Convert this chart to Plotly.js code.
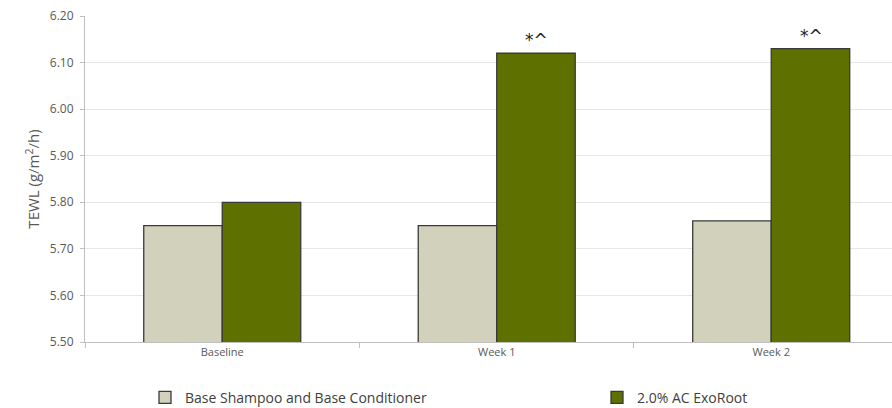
<!DOCTYPE html>
<html><head><meta charset="utf-8">
<script src="https://cdn.plot.ly/plotly-3.0.1.min.js"></script>
<style>html,body{margin:0;padding:0;background:#fff}#c{width:892px;height:408px}</style>
</head><body><div id="c"></div>
<script>
const categories = ["Baseline", "Week 1", "Week 2"];
const seriesNames = ["Base Shampoo and Base Conditioner", "2.0% AC ExoRoot"];
const baseValues = [5.75, 5.75, 5.76];
const exoValues = [5.80, 6.12, 6.13];
const sigMarks = ["", "*^", "*^"];
const yTicks = [5.5, 5.6, 5.7, 5.8, 5.9, 6.0, 6.1, 6.2];

const lineCol = "#3a3a3a";
const traces = [
  {type:"bar", name:seriesNames[0], x:categories, y:baseValues, legend:"legend",
   marker:{color:"#d2d1bc", line:{color:lineCol, width:1.3}}},
  {type:"bar", name:seriesNames[1], x:categories, y:exoValues, legend:"legend2",
   marker:{color:"#5e7000", line:{color:lineCol, width:1.3}}}
];
const annotations = categories.map((c,i)=>({
  x:c, y:exoValues[i], xref:"x", yref:"y", text:sigMarks[i], showarrow:false,
  xshift:40, yshift:13, font:{family:"DejaVu Sans, Arial", size:17, color:"#222"}
})).filter(a=>a.text);

const legCommon = {orientation:"h", xref:"container", yref:"container", xanchor:"left",
  yanchor:"middle", y:0.025, font:{size:14, color:"#404040"}, itemwidth:30,
  bgcolor:"rgba(0,0,0,0)"};

const layout = {
  width:892, height:408,
  margin:{l:85, r:0, t:16, b:66, autoexpand:false},
  paper_bgcolor:"#fff", plot_bgcolor:"#fff",
  barmode:"group", bargap:0.428, bargroupgap:0,
  font:{family:"Open Sans, Liberation Sans, Arial", color:"#595959"},
  xaxis:{type:"category", range:[-0.5, 2.44], tickson:"boundaries", ticks:"outside", ticklen:5,
    tickcolor:"#bfbfbf", showline:true, linecolor:"#bfbfbf", linewidth:1, showgrid:false,
    tickfont:{size:11, color:"#595959"}},
  yaxis:{range:[5.5, 6.2], tickvals:yTicks, tickformat:".2f", ticks:"outside", ticklen:4,
    ticklabelstandoff:4,
    tickcolor:"#bfbfbf", showline:true, linecolor:"#bfbfbf", linewidth:1,
    gridcolor:"#e6e6e6", gridwidth:1, zeroline:false,
    tickfont:{size:12, color:"#595959"},
    title:{text:"TEWL (g/m<sup>2</sup>/h)", font:{size:15, color:"#595959"}, standoff:6}},
  showlegend:true,
  legend:Object.assign({}, legCommon, {x:145/892}),
  legend2:Object.assign({}, legCommon, {x:597/892}),
  annotations: annotations
};
Plotly.newPlot("c", traces, layout, {displayModeBar:false, staticPlot:true});
</script></body></html>
